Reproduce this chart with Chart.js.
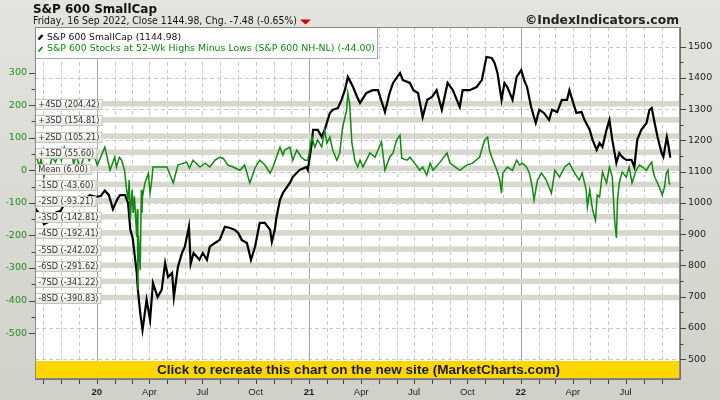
<!DOCTYPE html>
<html><head><meta charset="utf-8">
<script src="https://cdn.jsdelivr.net/npm/chart.js@4.4.1/dist/chart.umd.min.js"></script>
<style>html,body{margin:0;padding:0;background:#e0e0da;}#wrap{width:720px;height:400px;}</style>
</head><body><div id="wrap"><canvas id="c" width="720" height="400"></canvas></div>
<script>
// ---------- DATA ----------
const blackDates = ['2019-09-16','2019-09-20','2019-09-26','2019-10-02','2019-10-08','2019-10-15','2019-10-24','2019-10-31','2019-11-07','2019-11-15','2019-11-22','2019-11-29','2019-12-06','2019-12-13','2019-12-20','2019-12-31',
'2020-01-08','2020-01-15','2020-01-22','2020-01-29','2020-02-05','2020-02-10','2020-02-19','2020-02-24','2020-02-28','2020-03-03','2020-03-10','2020-03-12','2020-03-16','2020-03-20','2020-03-24','2020-03-27','2020-04-02','2020-04-07','2020-04-15','2020-04-22','2020-04-28','2020-05-03','2020-05-10','2020-05-13','2020-05-20','2020-05-27','2020-06-01','2020-06-08','2020-06-11','2020-06-16','2020-06-22','2020-06-26','2020-07-02','2020-07-09','2020-07-14','2020-07-23','2020-07-31','2020-08-09','2020-08-18','2020-08-26','2020-09-01','2020-09-07','2020-09-16','2020-09-23','2020-09-30','2020-10-08','2020-10-17','2020-10-26','2020-10-29','2020-11-03','2020-11-06','2020-11-12','2020-11-17','2020-11-24','2020-11-29','2020-12-04','2020-12-16','2020-12-28','2020-12-30',
'2021-01-06','2021-01-08','2021-01-16','2021-01-23','2021-01-28','2021-02-06','2021-02-11','2021-02-20','2021-02-26','2021-03-04','2021-03-09','2021-03-12','2021-03-18','2021-03-25','2021-03-30','2021-04-10','2021-04-21','2021-04-30','2021-05-12','2021-05-20','2021-05-26','2021-06-07','2021-06-12','2021-06-24','2021-06-30','2021-07-08','2021-07-16','2021-07-24','2021-08-01','2021-08-09','2021-08-18','2021-08-28','2021-09-06','2021-09-18','2021-09-23','2021-10-05','2021-10-17','2021-10-26','2021-11-03','2021-11-12','2021-11-17','2021-11-22','2021-11-29','2021-12-04','2021-12-09','2021-12-18','2021-12-25',
'2022-01-02','2022-01-07','2022-01-12','2022-01-19','2022-01-24','2022-01-27','2022-02-02','2022-02-10','2022-02-19','2022-02-24','2022-03-05','2022-03-13','2022-03-22','2022-03-26','2022-03-31','2022-04-07','2022-04-16','2022-04-21','2022-04-30','2022-05-05','2022-05-12','2022-05-17','2022-05-22','2022-05-29','2022-06-03','2022-06-08','2022-06-15','2022-06-20','2022-06-25','2022-07-02','2022-07-11','2022-07-16','2022-07-21','2022-07-28','2022-08-06','2022-08-11','2022-08-15','2022-08-20','2022-08-25','2022-09-01','2022-09-04','2022-09-10','2022-09-12','2022-09-16'];
const smallCapValues = [985,975,960,932,938,962,970,975,1000,998,990,1008,1012,1015,1025,1020,
1022,1040,1025,980,1010,1025,1025,1000,914,888,776,722,648,594,648,690,626,744,699,722,808,763,776,699,795,840,860,924,805,840,827,818,840,818,860,872,882,924,920,914,904,882,872,818,860,936,936,914,876,914,955,1010,1032,1051,1064,1083,1106,1115,1106,
1192,1234,1234,1211,1234,1288,1298,1304,1330,1362,1403,1393,1371,1339,1320,1352,1361,1361,1291,1352,1384,1416,1393,1384,1361,1352,1275,1330,1339,1361,1298,1384,1361,1307,1361,1361,1371,1393,1467,1464,1448,1416,1330,1384,1371,1330,1403,
1425,1393,1371,1307,1275,1256,1298,1288,1266,1298,1291,1330,1330,1361,1330,1288,1291,1266,1234,1202,1170,1192,1179,1234,1266,1202,1128,1160,1147,1138,1138,1115,1202,1234,1256,1298,1304,1256,1211,1160,1147,1211,1192,1145];

const greenDates = ['2019-09-16','2019-09-19','2019-09-24','2019-09-27','2019-10-02','2019-10-07','2019-10-10','2019-10-16','2019-10-22','2019-10-28','2019-11-01','2019-11-06','2019-11-12','2019-11-18','2019-11-22','2019-11-27','2019-12-03','2019-12-09','2019-12-13','2019-12-19','2019-12-26','2020-01-02',
'2020-01-15','2020-01-24','2020-02-01','2020-02-04','2020-02-09','2020-02-13','2020-02-18','2020-02-21','2020-02-24','2020-02-26','2020-02-28','2020-03-02','2020-03-04','2020-03-06','2020-03-10','2020-03-11','2020-03-12','2020-03-13','2020-03-16','2020-03-18','2020-03-19','2020-03-20','2020-03-24','2020-03-30','2020-04-02','2020-04-05','2020-04-07','2020-04-19','2020-05-01','2020-05-12','2020-05-20','2020-06-04','2020-06-09','2020-06-15','2020-06-27','2020-07-06','2020-07-14','2020-07-23','2020-07-31','2020-08-06','2020-08-14','2020-08-23','2020-09-04','2020-09-12','2020-09-21','2020-09-30','2020-10-08','2020-10-17','2020-10-26','2020-10-31','2020-11-12','2020-11-17','2020-11-20','2020-11-29','2020-12-04','2020-12-11','2020-12-19','2020-12-25','2020-12-30',
'2021-01-06','2021-01-11','2021-01-16','2021-01-23','2021-01-28','2021-02-01','2021-02-06','2021-02-11','2021-02-18','2021-02-23','2021-02-28','2021-03-07','2021-03-09','2021-03-12','2021-03-16','2021-03-21','2021-03-26','2021-03-30','2021-04-04','2021-04-10','2021-04-16','2021-04-25','2021-04-30','2021-05-06','2021-05-12','2021-05-20','2021-05-26','2021-06-01','2021-06-07','2021-06-10','2021-06-19','2021-06-24','2021-07-02','2021-07-11','2021-07-16','2021-07-23','2021-07-29','2021-08-03','2021-08-15','2021-08-27','2021-09-01','2021-09-06','2021-09-18','2021-09-30','2021-10-10','2021-10-22','2021-10-31','2021-11-05','2021-11-08','2021-11-14','2021-11-21','2021-11-26','2021-11-29','2021-12-01','2021-12-09','2021-12-18','2021-12-25','2021-12-30',
'2022-01-04','2022-01-11','2022-01-16','2022-01-21','2022-01-24','2022-01-30','2022-02-06','2022-02-14','2022-02-23','2022-03-01','2022-03-09','2022-03-18','2022-03-26','2022-04-04','2022-04-12','2022-04-17','2022-04-24','2022-04-26','2022-04-30','2022-05-05','2022-05-10','2022-05-13','2022-05-17','2022-05-22','2022-05-29','2022-06-03','2022-06-08','2022-06-12','2022-06-15','2022-06-17','2022-06-20','2022-06-25','2022-07-02','2022-07-07','2022-07-12','2022-07-19','2022-07-25','2022-07-30','2022-08-06','2022-08-11','2022-08-15','2022-08-17','2022-08-20','2022-08-25','2022-09-01','2022-09-02','2022-09-06','2022-09-09','2022-09-12','2022-09-14','2022-09-16'];
const nhnlValues = [20,45,10,35,-20,15,-5,40,25,55,30,70,40,60,20,45,5,35,50,30,55,15,
71,0,40,10,40,31,0,-52,-91,-30,-150,-60,-131,-80,-205,-120,-368,-200,-306,-60,-131,-82,-40,-10,-70,-30,10,10,10,-39,16,25,7,31,10,22,10,31,40,37,16,10,0,16,-39,7,31,16,-9,10,71,47,62,71,31,62,40,31,31,
102,71,93,71,123,83,102,62,31,53,133,185,237,206,83,31,10,31,10,31,53,40,62,87,0,40,53,93,108,37,31,40,22,0,10,-15,22,0,25,53,22,16,0,16,22,40,93,102,62,31,0,-30,-70,-9,10,0,31,16,
22,10,-9,-52,-91,-30,-9,-30,-70,0,-21,10,22,-9,-30,-9,-61,-113,-61,-122,-153,-76,-82,-5,-39,10,-21,-153,-208,-91,-39,-5,-21,10,-39,0,16,10,0,16,25,0,-21,-39,-70,-76,-52,-9,0,-39,-44];

const sdNames  = ['+4SD','+3SD','+2SD','+1SD','Mean','-1SD','-2SD','-3SD','-4SD','-5SD','-6SD','-7SD','-8SD'];
const sdValues = [204.42,154.81,105.21,55.60,6.00,-43.60,-93.21,-142.81,-192.41,-242.02,-291.62,-341.22,-390.83];
const leftTickValues  = [300,200,100,0,-100,-200,-300,-400,-500];
const rightTickValues = [1500,1400,1300,1200,1100,1000,900,800,700,600,500];
const monthNames = ['Jan','Feb','Mar','Apr','May','Jun','Jul','Aug','Sep','Oct','Nov','Dec'];
const titleText = 'S&P 600 SmallCap';
const subtitleText = 'Friday, 16 Sep 2022, Close 1144.98, Chg. -7.48 (-0.65%)';
const legendTexts = ['S&P 600 SmallCap (1144.98)','S&P 600 Stocks at 52-Wk Highs Minus Lows (S&P 600 NH-NL) (-44.00)'];

// ---------- helpers ----------
const EPOCH = Date.UTC(2020,0,1);
function dayNum(s){const p=s.split('-').map(Number);return (Date.UTC(p[0],p[1]-1,p[2])-EPOCH)/864e5;}
function dayToDate(v){return new Date(EPOCH+Math.round(v)*864e5);}
const monthTicks=[];
for(let y=2019;y<=2022;y++)for(let m=0;m<12;m++){
  const d=(Date.UTC(y,m,1)-EPOCH)/864e5;
  if(d>=dayNum('2019-10-01')&&d<=dayNum('2022-09-01'))monthTicks.push(d);
}
function fitText(ctx,text,x,y,weight,family,size,targetW,align){
  ctx.font=weight+' '+size+'px "'+family+'"';
  const w=ctx.measureText(text).width;
  const sx=targetW/w;
  let lx=x; if(align==='right')lx=x-targetW; else if(align==='center')lx=x-targetW/2;
  ctx.save();ctx.translate(lx,y);ctx.scale(sx,1);ctx.textAlign='left';ctx.textBaseline='alphabetic';
  ctx.fillText(text,0,0);ctx.restore();
}

const GREEN='#118811';

const deco={
  id:'deco',
  beforeDraw(chart){
    const {ctx,chartArea:a}=chart;
    ctx.save();
    const g=ctx.createLinearGradient(0,0,0,400);
    g.addColorStop(0,'#e4e4df');g.addColorStop(1,'#d1d1c9');
    ctx.fillStyle=g;ctx.fillRect(0,0,720,400);
    ctx.fillStyle='#ffffff';ctx.fillRect(a.left,a.top,a.right-a.left,a.bottom-a.top);
    ctx.fillStyle='#111';
    fitText(ctx,titleText,33,13,'bold','DejaVu Sans',11.5,124,'left');
    fitText(ctx,subtitleText,33,24,'normal','DejaVu Sans',10,264,'left');
    ctx.fillStyle='#cc0000';
    ctx.beginPath();ctx.moveTo(300,19.5);ctx.lineTo(311,19.5);ctx.lineTo(305.5,24.5);ctx.closePath();ctx.fill();
    ctx.fillStyle='#222';
    fitText(ctx,'\u00A9IndexIndicators.com',679,24,'bold','DejaVu Sans',12,154,'right');
    ctx.restore();
  },
  beforeDatasetsDraw(chart){
    const {ctx,chartArea:a,scales}=chart;
    const xs=scales.x, yl=scales.yL, yr=scales.yR;
    ctx.save();
    ctx.beginPath();ctx.rect(a.left,a.top,a.right-a.left,a.bottom-a.top);ctx.clip();
    ctx.strokeStyle='#c9c9c9';ctx.lineWidth=1;ctx.setLineDash([4,3]);
    rightTickValues.forEach(v=>{const y=Math.round(yr.getPixelForValue(v))+0.5;ctx.beginPath();ctx.moveTo(a.left,y);ctx.lineTo(a.right,y);ctx.stroke();});
    monthTicks.forEach(d=>{
      const dt=dayToDate(d); if(dt.getUTCMonth()===0)return;
      const x=Math.round(xs.getPixelForValue(d))+0.5;ctx.beginPath();ctx.moveTo(x,a.top);ctx.lineTo(x,a.bottom);ctx.stroke();});
    ctx.setLineDash([]);ctx.strokeStyle='#a4a4a4';
    monthTicks.forEach(d=>{
      const dt=dayToDate(d); if(dt.getUTCMonth()!==0)return;
      const x=Math.round(xs.getPixelForValue(d))+0.5;ctx.beginPath();ctx.moveTo(x,a.top);ctx.lineTo(x,a.bottom);ctx.stroke();});
    ctx.fillStyle='#d7d7ce';
    sdValues.forEach(v=>{const y=yl.getPixelForValue(v);ctx.fillRect(a.left,y-2.75,a.right-a.left,5.5);});
    ctx.restore();
  },
  afterDatasetsDraw(chart){
    const {ctx,chartArea:a,scales}=chart;
    const xs=scales.x, yl=scales.yL, yr=scales.yR;
    ctx.save();
    ctx.font='8.2px "DejaVu Sans"';ctx.textBaseline='middle';ctx.textAlign='left';
    sdValues.forEach((v,i)=>{
      const t=sdNames[i]+' ('+v.toFixed(2)+')';
      const y=yl.getPixelForValue(v);
      const w=ctx.measureText(t).width+6;
      const top=Math.round(y-4.5)+0.5;
      const gg=ctx.createLinearGradient(0,top,0,top+10);
      gg.addColorStop(0,'#ffffff');gg.addColorStop(1,'#e4e4de');
      ctx.fillStyle=gg;ctx.fillRect(a.left,top,w,10);
      ctx.strokeStyle='#c4c4bc';ctx.lineWidth=1;ctx.strokeRect(a.left,top,Math.round(w),10);
      ctx.fillStyle='#333';ctx.fillText(t,a.left+3.3,top+5.3);
    });
    ctx.fillStyle='#fff';ctx.fillRect(35,27,343,31);
    ctx.strokeStyle='#a8a8a8';ctx.strokeRect(35.5,27.5,342,31);
    ctx.lineCap='butt';
    ctx.strokeStyle='#000';ctx.lineWidth=2.5;ctx.beginPath();ctx.moveTo(38.5,39.5);ctx.lineTo(42.5,35);ctx.stroke();
    ctx.strokeStyle=GREEN;ctx.lineWidth=1.8;ctx.beginPath();ctx.moveTo(38.5,51.5);ctx.lineTo(42.5,47);ctx.stroke();
    ctx.fillStyle='#111';fitText(ctx,legendTexts[0],47,39.5,'normal','DejaVu Sans',9.2,134,'left');
    ctx.fillStyle=GREEN;fitText(ctx,legendTexts[1],47,51,'normal','DejaVu Sans',9.2,328,'left');
    ctx.fillStyle='#ffd700';ctx.fillRect(a.left,361,a.right-a.left,a.bottom-361);
    ctx.fillStyle='#1a1a1a';
    fitText(ctx,'Click to recreate this chart on the new site (MarketCharts.com)',358.5,374,'bold','Liberation Sans',12.8,403,'center');
    ctx.strokeStyle='#8a8a8a';ctx.lineWidth=1;ctx.strokeRect(a.left+0.5,a.top+0.5,a.right-a.left-1,a.bottom-a.top);
    ctx.strokeStyle='#707070';ctx.beginPath();ctx.moveTo(a.right+0.5,a.top);ctx.lineTo(a.right+0.5,a.bottom+1.5);ctx.lineTo(a.left,a.bottom+1.5);ctx.stroke();
    ctx.strokeStyle='#444';
    for(let v=-500;v<=300;v+=50){const y=Math.round(yl.getPixelForValue(v))+0.5;const L=(v%100===0)?6:3.5;ctx.beginPath();ctx.moveTo(a.left-L,y);ctx.lineTo(a.left,y);ctx.stroke();}
    for(let v=500;v<=1500;v+=50){const y=Math.round(yr.getPixelForValue(v))+0.5;const L=(v%100===0)?6:3.5;ctx.beginPath();ctx.moveTo(a.right,y);ctx.lineTo(a.right+L,y);ctx.stroke();}
    monthTicks.forEach(d=>{const x=Math.round(xs.getPixelForValue(d))+0.5;ctx.beginPath();ctx.moveTo(x,a.bottom+2);ctx.lineTo(x,a.bottom+6);ctx.stroke();});
    ctx.restore();
  }
};

const chart=new Chart(document.getElementById('c'),{
  type:'line',
  data:{datasets:[
    {label:legendTexts[1],data:greenDates.map((d,i)=>({x:dayNum(d),y:nhnlValues[i]})),yAxisID:'yL',borderColor:GREEN,borderWidth:1.5,pointRadius:0,order:0},
    {label:legendTexts[0],data:blackDates.map((d,i)=>({x:dayNum(d),y:smallCapValues[i]})),yAxisID:'yR',borderColor:'#000',borderWidth:2.2,pointRadius:0,order:1}
  ]},
  options:{
    responsive:false,animation:false,devicePixelRatio:1,
    layout:{padding:{top:27,left:0,right:0,bottom:0}},
    plugins:{legend:{display:false},tooltip:{enabled:false}},
    elements:{line:{tension:0,borderJoinStyle:'miter'},point:{radius:0}},
    scales:{
      x:{type:'linear',min:-106.4,max:1005.7,
        afterFit(s){s.height=22;},
        afterBuildTicks(s){s.ticks=monthTicks.map(v=>({value:v}));},
        grid:{display:false,drawTicks:false},border:{display:false},
        ticks:{autoSkip:false,maxRotation:0,padding:9,color:'#222',
          font:(c)=>{const dt=dayToDate(c.tick?c.tick.value:0);return {family:'Liberation Sans',size:9.5,weight:dt.getUTCMonth()===0?'bold':'normal'};},
          callback:(v)=>{const dt=dayToDate(v);const m=dt.getUTCMonth(),y=dt.getUTCFullYear();if(y<2020)return '';if(m===0)return String(y).slice(2);if(m===3||m===6||m===9)return monthNames[m];return '';}}
      },
      yL:{position:'left',min:-638,max:440,
        afterFit(s){s.width=35;},
        afterBuildTicks(s){s.ticks=leftTickValues.map(v=>({value:v}));},
        grid:{display:false,drawTicks:false},border:{display:false},
        ticks:{padding:8,color:'#1e8c1e',font:{family:'DejaVu Sans',size:9.5},callback:(v)=>String(v)}
      },
      yR:{position:'right',min:440,max:1563,
        afterFit(s){s.width=40;},
        afterBuildTicks(s){s.ticks=rightTickValues.map(v=>({value:v}));},
        grid:{display:false,drawTicks:false},border:{display:false},
        ticks:{padding:8,color:'#222',font:{family:'DejaVu Sans',size:9.5},callback:(v)=>String(v)}
      }
    }
  },
  plugins:[deco]
});
</script></body></html>
